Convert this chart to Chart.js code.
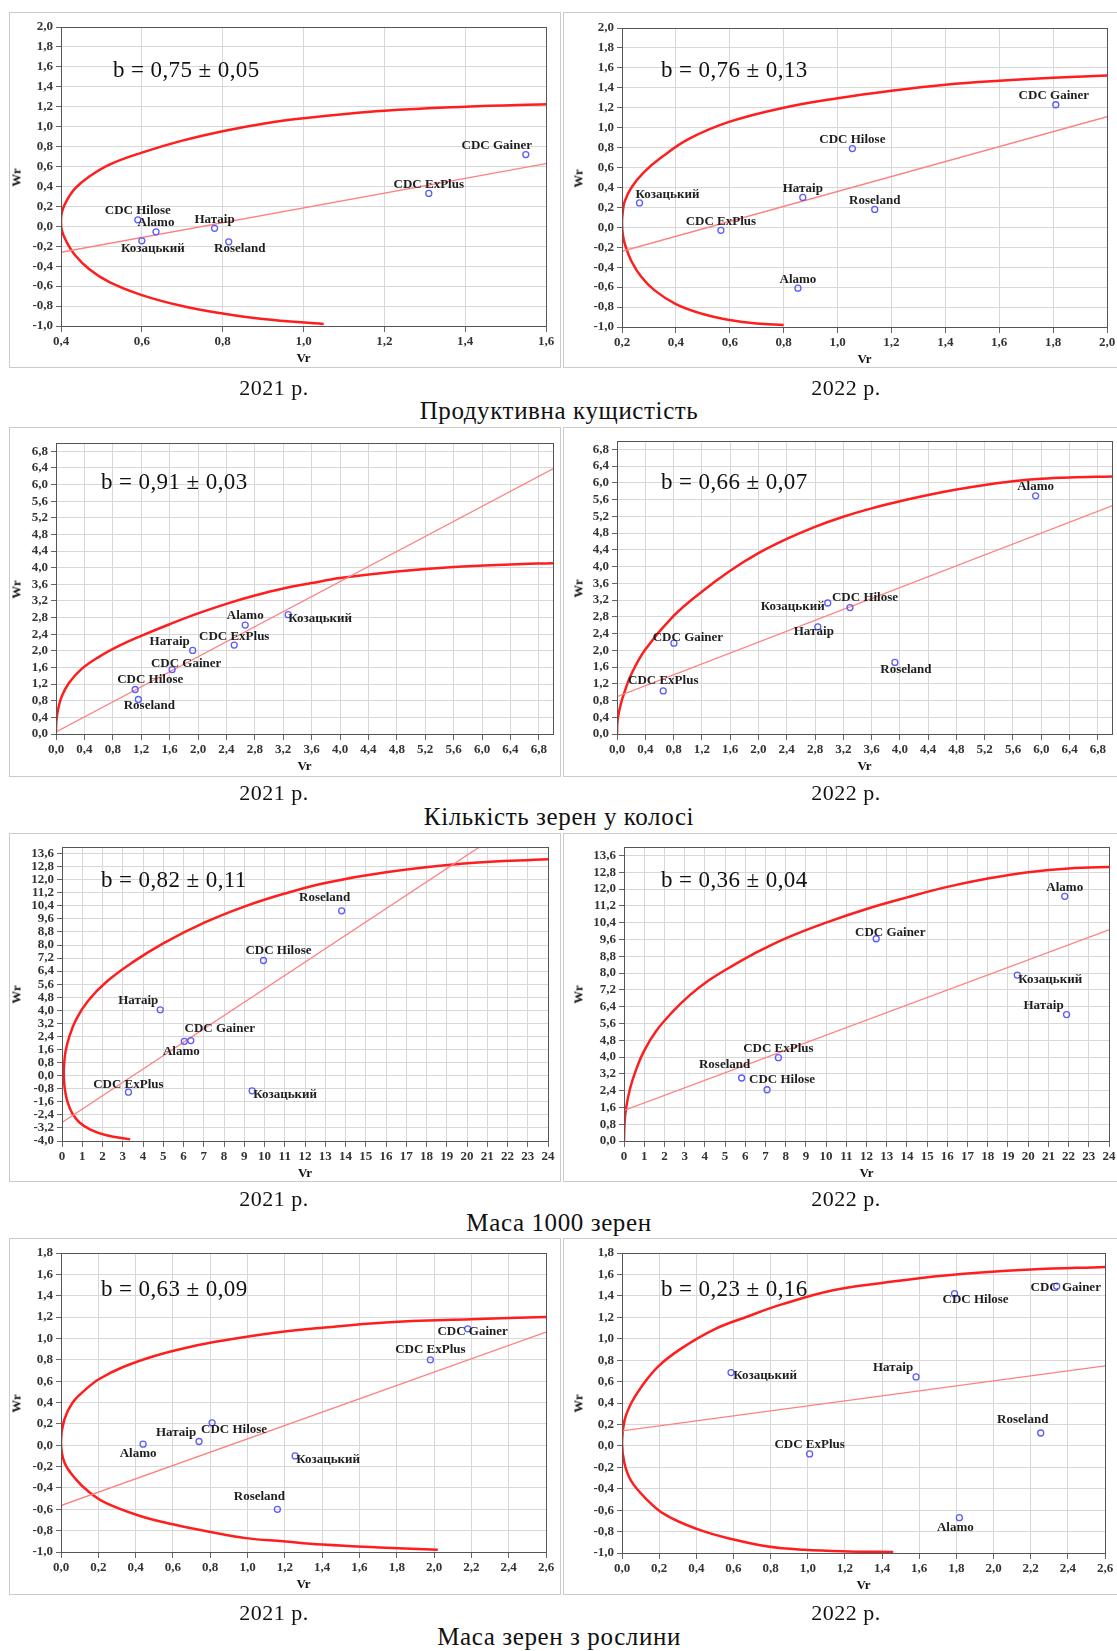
<!DOCTYPE html>
<html lang="uk">
<head>
<meta charset="utf-8">
<title>Vr / Wr</title>
<script src="https://cdn.jsdelivr.net/npm/chart.js@4.4.1/dist/chart.umd.min.js"></script>
<style>
    html, body { margin: 0; padding: 0; background: #fff; }
    body {
        width: 1117px; height: 1651px; position: relative; overflow: hidden;
        font-family: 'Liberation Serif', 'Times New Roman', serif;
    }
    .frame { position: absolute; border: 1px solid #cbcbcb; box-sizing: border-box; }
    canvas { position: absolute; }
    .txt { position: absolute; white-space: nowrap; color: #111; }
</style>
</head>
<body>
<script>
// ============================================
// DATA
// ============================================

const genotypes = ['CDC Gainer', 'CDC ExPlus', 'CDC Hilose', 'Alamo', 'Козацький', 'Натаір', 'Roseland'];

const traitTitles = ['Продуктивна кущистість', 'Кількість зерен у колосі', 'Маса 1000 зерен', 'Маса зерен з рослини'];
const yearLabels = ['2021 р.', '2022 р.'];
const bTexts = ['b = 0,75 ± 0,05', 'b = 0,76 ± 0,13', 'b = 0,91 ± 0,03', 'b = 0,66 ± 0,07',
                'b = 0,82 ± 0,11', 'b = 0,36 ± 0,04', 'b = 0,63 ± 0,09', 'b = 0,23 ± 0,16'];

// axis ranges: [min, max, step]
const tillering2021XAxis = [0.4, 1.6, 0.2];
const tillering2022XAxis = [0.2, 2.0, 0.2];
const tilleringYAxis = [-1.0, 2.0, 0.2];
const grainsAxis = [0, 7.0, 0.4];
const tgwXAxis = [0, 24, 1];
const tgw2021YAxis = [-4.0, 14.0, 0.8];
const tgw2022YAxis = [0, 14.0, 0.8];
const yieldXAxis = [0, 2.6, 0.2];
const yieldYAxis = [-1.0, 1.8, 0.2];

// Продуктивна кущистість 2021
const tillering2021Vr = [1.55, 1.31, 0.59, 0.635, 0.60, 0.78, 0.815];
const tillering2021Wr = [0.72, 0.33, 0.065, -0.055, -0.145, -0.02, -0.155];
const tillering2021LineVr = [0.4, 1.6];
const tillering2021LineWr = [-0.26, 0.63];
const tillering2021CurveVr = [1.61, 1.4, 1.2, 1.0, 0.9, 0.8, 0.7, 0.6, 0.52, 0.47, 0.435, 0.413, 0.402, 0.4,
                              0.402, 0.413, 0.435, 0.47, 0.52, 0.6, 0.7, 0.8, 0.9, 1.05];
const tillering2021CurveWr = [1.225, 1.2, 1.16, 1.085, 1.03, 0.955, 0.86, 0.74, 0.62, 0.5, 0.38, 0.25, 0.14, 0.05,
                              -0.04, -0.15, -0.29, -0.43, -0.56, -0.69, -0.8, -0.875, -0.93, -0.98];

// Продуктивна кущистість 2022
const tillering2022Vr = [1.81, 0.567, 1.055, 0.853, 0.265, 0.871, 1.138];
const tillering2022Wr = [1.23, -0.03, 0.79, -0.61, 0.245, 0.30, 0.18];
const tillering2022LineVr = [0.2, 2.0];
const tillering2022LineWr = [-0.24, 1.11];
const tillering2022CurveVr = [2.02, 1.8, 1.6, 1.4, 1.2, 1.0, 0.8, 0.6, 0.45, 0.35, 0.28, 0.235, 0.21, 0.203, 0.2,
                              0.203, 0.212, 0.235, 0.27, 0.32, 0.4, 0.5, 0.6, 0.7, 0.8];
const tillering2022CurveWr = [1.525, 1.5, 1.47, 1.43, 1.37, 1.295, 1.2, 1.06, 0.89, 0.71, 0.55, 0.40, 0.26, 0.16, 0.04,
                              -0.07, -0.18, -0.34, -0.49, -0.63, -0.77, -0.87, -0.93, -0.965, -0.98];

// Кількість зерен у колосі 2021
const grains2021Vr = [1.636, 2.51, 1.115, 2.665, 3.27, 1.925, 1.16];
const grains2021Wr = [1.55, 2.14, 1.07, 2.62, 2.87, 2.01, 0.83];
const grains2021LineVr = [0, 7.0];
const grains2021LineWr = [0.05, 6.38];
const grains2021CurveVr = [0, 0.005, 0.03, 0.08, 0.18, 0.35, 0.6, 0.9, 1.2, 1.6, 2.0, 2.4, 2.8, 3.2, 3.6, 4.0, 4.8, 5.6, 6.4, 7.0];
const grains2021CurveWr = [0.05, 0.3, 0.6, 0.9, 1.22, 1.55, 1.85, 2.13, 2.36, 2.64, 2.9, 3.13, 3.33, 3.5, 3.63, 3.75, 3.91, 4.02, 4.08, 4.11];

// Кількість зерен у колосі 2022
const grains2022Vr = [0.805, 0.654, 3.295, 5.92, 2.98, 2.84, 3.93];
const grains2022Wr = [2.17, 1.03, 3.02, 5.69, 3.13, 2.56, 1.71];
const grains2022LineVr = [0, 7.0];
const grains2022LineWr = [0.89, 5.45];
const grains2022CurveVr = [0, 0.01, 0.05, 0.1, 0.2, 0.4, 0.8, 1.2, 1.6, 2.0, 2.4, 2.8, 3.2, 3.6, 4.0, 4.4, 4.8, 5.2, 5.6, 6.0, 6.4, 7.0];
const grains2022CurveWr = [0, 0.35, 0.69, 0.97, 1.42, 2.02, 2.82, 3.4, 3.9, 4.32, 4.66, 4.95, 5.19, 5.39, 5.56, 5.71, 5.84, 5.95, 6.04, 6.1, 6.13, 6.15];

// Маса 1000 зерен 2021
const tgw2021Vr = [6.36, 3.28, 9.95, 6.04, 9.39, 4.85, 13.81];
const tgw2021Wr = [2.15, -1.01, 7.05, 2.1, -0.93, 4.03, 10.09];
const tgw2021LineVr = [0, 24];
const tgw2021LineWr = [-2.87, 16.77];
const tgw2021CurveVr = [24, 20, 16, 13, 11, 9, 7, 5, 3.5, 2.2, 1.3, 0.7, 0.35, 0.17, 0.1, 0.09,
                        0.1, 0.15, 0.27, 0.5, 0.85, 1.4, 2.2, 3.37];
const tgw2021CurveWr = [13.25, 13.0, 12.45, 11.8, 11.15, 10.35, 9.35, 8.1, 6.95, 5.75, 4.6, 3.45, 2.35, 1.45, 0.6, 0.3,
                        -0.3, -0.9, -1.6, -2.3, -2.85, -3.3, -3.65, -3.9];

// Маса 1000 зерен 2022
const tgw2022Vr = [12.48, 7.64, 7.08, 21.81, 19.46, 21.9, 5.82];
const tgw2022Wr = [9.63, 3.97, 2.44, 11.65, 7.9, 6.02, 3.0];
const tgw2022LineVr = [0, 24];
const tgw2022LineWr = [1.46, 10.06];
const tgw2022CurveVr = [0, 0.03, 0.1, 0.3, 0.6, 1.0, 1.6, 2.4, 3.2, 4.2, 5.2, 6.4, 8.0, 10, 12, 14, 16, 18, 20, 22, 24.3];
const tgw2022CurveWr = [0, 0.9, 1.55, 2.5, 3.4, 4.3, 5.25, 6.15, 6.9, 7.65, 8.25, 8.9, 9.65, 10.4, 11.05, 11.6, 12.1, 12.5, 12.8, 12.98, 13.05];

// Маса зерен з рослини 2021
const yield2021Vr = [2.18, 1.98, 0.81, 0.44, 1.255, 0.74, 1.16];
const yield2021Wr = [1.09, 0.80, 0.21, 0.01, -0.10, 0.035, -0.60];
const yield2021LineVr = [0, 2.6];
const yield2021LineWr = [-0.565, 1.06];
const yield2021CurveVr = [2.6, 2.2, 1.74, 1.4, 1.134, 0.87, 0.69, 0.51, 0.33, 0.205, 0.134, 0.0625, 0.018, 0,
                          0.018, 0.08, 0.152, 0.24, 0.42, 0.6, 0.795, 0.99, 1.19, 1.4, 1.74, 2.02];
const yield2021CurveWr = [1.2, 1.18, 1.15, 1.1, 1.05, 0.98, 0.92, 0.84, 0.73, 0.62, 0.525, 0.4, 0.24, 0.04,
                          -0.16, -0.32, -0.44, -0.54, -0.66, -0.74, -0.81, -0.87, -0.9, -0.93, -0.96, -0.98];

// Маса зерен з рослини 2022
const yield2022Vr = [2.34, 1.01, 1.79, 1.816, 0.587, 1.583, 2.254];
const yield2022Wr = [1.49, -0.075, 1.42, -0.67, 0.684, 0.643, 0.12];
const yield2022LineVr = [0, 2.6];
const yield2022LineWr = [0.14, 0.746];
const yield2022CurveVr = [2.6, 2.2, 1.74, 1.4, 1.13, 0.86, 0.68, 0.5, 0.32, 0.194, 0.104, 0.05, 0.014, 0,
                          0.014, 0.05, 0.122, 0.23, 0.41, 0.59, 0.786, 0.98, 1.22, 1.46];
const yield2022CurveWr = [1.67, 1.645, 1.59, 1.52, 1.45, 1.32, 1.21, 1.09, 0.91, 0.74, 0.55, 0.4, 0.24, 0.035,
                          -0.17, -0.33, -0.48, -0.64, -0.78, -0.87, -0.94, -0.97, -0.985, -0.99];

// ============================================
// LAYOUT (page pixels)
// ============================================

// plot areas: [left, top, right, bottom]
const plotRects = [
    [61, 27, 546, 326], [622, 28, 1107, 327],
    [56, 443, 553, 734], [617, 441, 1112, 734],
    [62, 847, 548, 1141], [624, 847, 1109, 1141],
    [61, 1253, 546, 1552], [622, 1253, 1105, 1553]
];
const frameRects = [
    [9, 12, 561, 368], [563, 12, 1120, 368],
    [9, 427, 561, 777], [563, 427, 1120, 777],
    [9, 833, 561, 1182], [563, 833, 1120, 1182],
    [9, 1238, 561, 1595], [563, 1238, 1120, 1595]
];
// b text: [left, baseline]
const bTextSpots = [[113, 77], [661, 77], [101, 489], [661, 489], [101, 887], [661, 887], [101, 1296], [661, 1296]];
const rowCaptionY = [387, 792, 1198, 1612];
const rowTitleY = [411, 817, 1223, 1637];
const colCaptionX = [274, 846];
const colWrX = [16, 578];

// label offsets of each genotype (label centre relative to point)
const placesP1 = [[-29, -9], [0, -9], [0, -9], [0, -9], [11, 8], [0, -9], [11, 7]];
const placesP2 = [[-2, -9], [0, -9], [0, -9], [0, -8], [28, -8], [0, -9], [0, -9]];
const placesP3 = [[14, -6], [0, -8], [15, -10], [0, -9], [32, 4], [-23, -9], [11, 6]];
const placesP4 = [[14, -6], [0, -10], [15, -10], [0, -9], [-35, 4], [-4, 5], [11, 7]];
const placesP5 = [[29, -12], [0, -8], [15, -10], [-3, 10], [33, 4], [-22, -9], [-17, -13]];
const placesP6 = [[14, -6], [0, -9], [15, -10], [0, -9], [33, 5], [-23, -9], [-17, -13]];
const placesP7 = [[5, 3], [0, -10], [22, 7], [-5, 9], [33, 4], [-23, -9], [-18, -13]];
const placesP8 = [[9, 1], [0, -9], [21, 6], [-4, 10], [34, 3], [-23, -9], [-18, -13]];

const panels = [
    { vr: tillering2021Vr, wr: tillering2021Wr, lineVr: tillering2021LineVr, lineWr: tillering2021LineWr,
      curveVr: tillering2021CurveVr, curveWr: tillering2021CurveWr, xAxis: tillering2021XAxis, yAxis: tilleringYAxis, places: placesP1 },
    { vr: tillering2022Vr, wr: tillering2022Wr, lineVr: tillering2022LineVr, lineWr: tillering2022LineWr,
      curveVr: tillering2022CurveVr, curveWr: tillering2022CurveWr, xAxis: tillering2022XAxis, yAxis: tilleringYAxis, places: placesP2 },
    { vr: grains2021Vr, wr: grains2021Wr, lineVr: grains2021LineVr, lineWr: grains2021LineWr,
      curveVr: grains2021CurveVr, curveWr: grains2021CurveWr, xAxis: grainsAxis, yAxis: grainsAxis, places: placesP3 },
    { vr: grains2022Vr, wr: grains2022Wr, lineVr: grains2022LineVr, lineWr: grains2022LineWr,
      curveVr: grains2022CurveVr, curveWr: grains2022CurveWr, xAxis: grainsAxis, yAxis: grainsAxis, places: placesP4 },
    { vr: tgw2021Vr, wr: tgw2021Wr, lineVr: tgw2021LineVr, lineWr: tgw2021LineWr,
      curveVr: tgw2021CurveVr, curveWr: tgw2021CurveWr, xAxis: tgwXAxis, yAxis: tgw2021YAxis, places: placesP5 },
    { vr: tgw2022Vr, wr: tgw2022Wr, lineVr: tgw2022LineVr, lineWr: tgw2022LineWr,
      curveVr: tgw2022CurveVr, curveWr: tgw2022CurveWr, xAxis: tgwXAxis, yAxis: tgw2022YAxis, places: placesP6 },
    { vr: yield2021Vr, wr: yield2021Wr, lineVr: yield2021LineVr, lineWr: yield2021LineWr,
      curveVr: yield2021CurveVr, curveWr: yield2021CurveWr, xAxis: yieldXAxis, yAxis: yieldYAxis, places: placesP7 },
    { vr: yield2022Vr, wr: yield2022Wr, lineVr: yield2022LineVr, lineWr: yield2022LineWr,
      curveVr: yield2022CurveVr, curveWr: yield2022CurveWr, xAxis: yieldXAxis, yAxis: yieldYAxis, places: placesP8 }
];

// ============================================
// HELPERS
// ============================================

const SERIF = "'Liberation Serif', 'Times New Roman', serif";
const PAD_LEFT = 60, PAD_TOP = 12, PAD_RIGHT = 24, PAD_BOTTOM = 30;

function toPoints(xs, ys) {
    return xs.map((x, i) => ({ x: x, y: ys[i] }));
}

function formatTick(value, step) {
    const decimals = step < 1 ? 1 : 0;
    let r = Math.round(value * 1000) / 1000;
    if (r === 0) r = 0;
    return r.toFixed(decimals).replace('.', ',');
}

function tickValues(axis) {
    const [min, max, step] = axis;
    const n = Math.floor((max - min) / step + 1e-6);
    const out = [];
    for (let k = 0; k <= n; k++) out.push({ value: Math.round((min + k * step) * 1000) / 1000 });
    return out;
}

// text with a given baseline (line-height = size)
function addText(text, x, baseline, size, opts = {}) {
    const el = document.createElement('div');
    el.className = 'txt';
    el.textContent = text;
    el.style.fontSize = size + 'px';
    el.style.lineHeight = size + 'px';
    el.style.top = (baseline - 0.84 * size) + 'px';
    el.style.left = x + 'px';
    if (opts.weight) el.style.fontWeight = opts.weight;
    if (opts.spacing) el.style.letterSpacing = opts.spacing;
    if (opts.center) el.style.transform = 'translateX(-50%)';
    document.body.appendChild(el);
    return el;
}

// ============================================
// PLUGINS
// ============================================

const plotBorder = {
    id: 'plotBorder',
    afterDraw(chart) {
        const { ctx, chartArea: a } = chart;
        ctx.save();
        ctx.strokeStyle = '#555';
        ctx.lineWidth = 1;
        ctx.strokeRect(Math.round(a.left) + 0.5, Math.round(a.top) + 0.5,
                       Math.round(a.right - a.left), Math.round(a.bottom - a.top));
        ctx.restore();
    }
};

const pointLabels = {
    id: 'pointLabels',
    afterDatasetsDraw(chart, args, opts) {
        const { ctx } = chart;
        const meta = chart.getDatasetMeta(0);
        ctx.save();
        ctx.font = 'bold 13px ' + SERIF;
        ctx.fillStyle = '#1e1e1e';
        ctx.textAlign = 'center';
        ctx.textBaseline = 'middle';
        meta.data.forEach((pt, i) => {
            const [dx, dy] = opts.places[i];
            ctx.fillText(genotypes[i], pt.x + dx, pt.y + dy);
        });
        ctx.restore();
    }
};

function axisOptions(axis, isX) {
    return {
        type: 'linear',
        min: axis[0],
        max: axis[1],
        afterBuildTicks: (scale) => { scale.ticks = tickValues(axis); },
        afterFit: (scale) => {
            if (isX) scale.height = PAD_BOTTOM; else scale.width = PAD_LEFT;
        },
        ticks: {
            autoSkip: false,
            maxRotation: 0,
            minRotation: 0,
            padding: isX ? 2 : 3,
            color: '#333',
            font: { family: SERIF, size: 13, weight: 'bold' },
            callback: (v) => formatTick(v, axis[2])
        },
        grid: { color: '#d8d8d8', lineWidth: 1, tickLength: isX ? 6 : 5, tickColor: '#666' },
        border: { display: true, color: '#555' }
    };
}

// ============================================
// BUILD PANELS
// ============================================

function buildPanel(p, idx) {
    const [pl, pt, pr, pb] = plotRects[idx];
    const [fl, ft, fr, fb] = frameRects[idx];

    const frame = document.createElement('div');
    frame.className = 'frame';
    frame.style.left = fl + 'px';
    frame.style.top = ft + 'px';
    frame.style.width = (fr - fl) + 'px';
    frame.style.height = (fb - ft) + 'px';
    document.body.appendChild(frame);

    const canvas = document.createElement('canvas');
    const w = (pr - pl) + PAD_LEFT + PAD_RIGHT;
    const h = (pb - pt) + PAD_TOP + PAD_BOTTOM;
    canvas.width = w;
    canvas.height = h;
    canvas.style.left = (pl - PAD_LEFT) + 'px';
    canvas.style.top = (pt - PAD_TOP) + 'px';
    canvas.style.width = w + 'px';
    canvas.style.height = h + 'px';
    document.body.appendChild(canvas);

    new Chart(canvas, {
        type: 'scatter',
        data: {
            datasets: [{
                data: toPoints(p.vr, p.wr),
                pointRadius: 3,
                pointBorderWidth: 1.3,
                borderColor: '#5b5bff',
                backgroundColor: 'rgba(255,255,255,0)',
                showLine: false
            }, {
                data: toPoints(p.lineVr, p.lineWr),
                showLine: true,
                borderColor: '#ff8080',
                borderWidth: 1.3,
                pointRadius: 0
            }, {
                data: toPoints(p.curveVr, p.curveWr),
                showLine: true,
                borderColor: '#ff1e1e',
                borderWidth: 2.5,
                pointRadius: 0,
                tension: 0.4
            }]
        },
        options: {
            responsive: false,
            animation: false,
            devicePixelRatio: 1,
            elements: { line: { capBezierPoints: false } },
            layout: { padding: { left: 0, top: PAD_TOP, right: PAD_RIGHT, bottom: 0 } },
            plugins: {
                legend: { display: false },
                tooltip: { enabled: false },
                pointLabels: { places: p.places }
            },
            scales: {
                x: axisOptions(p.xAxis, true),
                y: axisOptions(p.yAxis, false)
            }
        },
        plugins: [plotBorder, pointLabels]
    });

    // texts
    const col = idx % 2;
    const [bx, by] = bTextSpots[idx];
    addText(bTexts[idx], bx, by, 23, { spacing: '0.4px' });

    addText('Vr', (pl + pr) / 2, pb + 36, 13, { weight: 'bold', center: true });

    const wr = addText('Wr', colWrX[col], (pt + pb) / 2 + 5, 13, { weight: 'bold', center: true });
    wr.style.transform = 'translateX(-50%) rotate(-90deg)';
}

document.addEventListener('DOMContentLoaded', function() {
    Chart.defaults.font.family = SERIF;
    panels.forEach(buildPanel);

    rowCaptionY.forEach((y, row) => {
        colCaptionX.forEach((x, col) => {
            addText(yearLabels[col], x, y + 8, 22, { center: true, spacing: '0.5px' });
        });
        addText(traitTitles[row], 559, rowTitleY[row] + 8, 25, { center: true, spacing: '0.6px' });
    });
});
</script>
</body>
</html>
